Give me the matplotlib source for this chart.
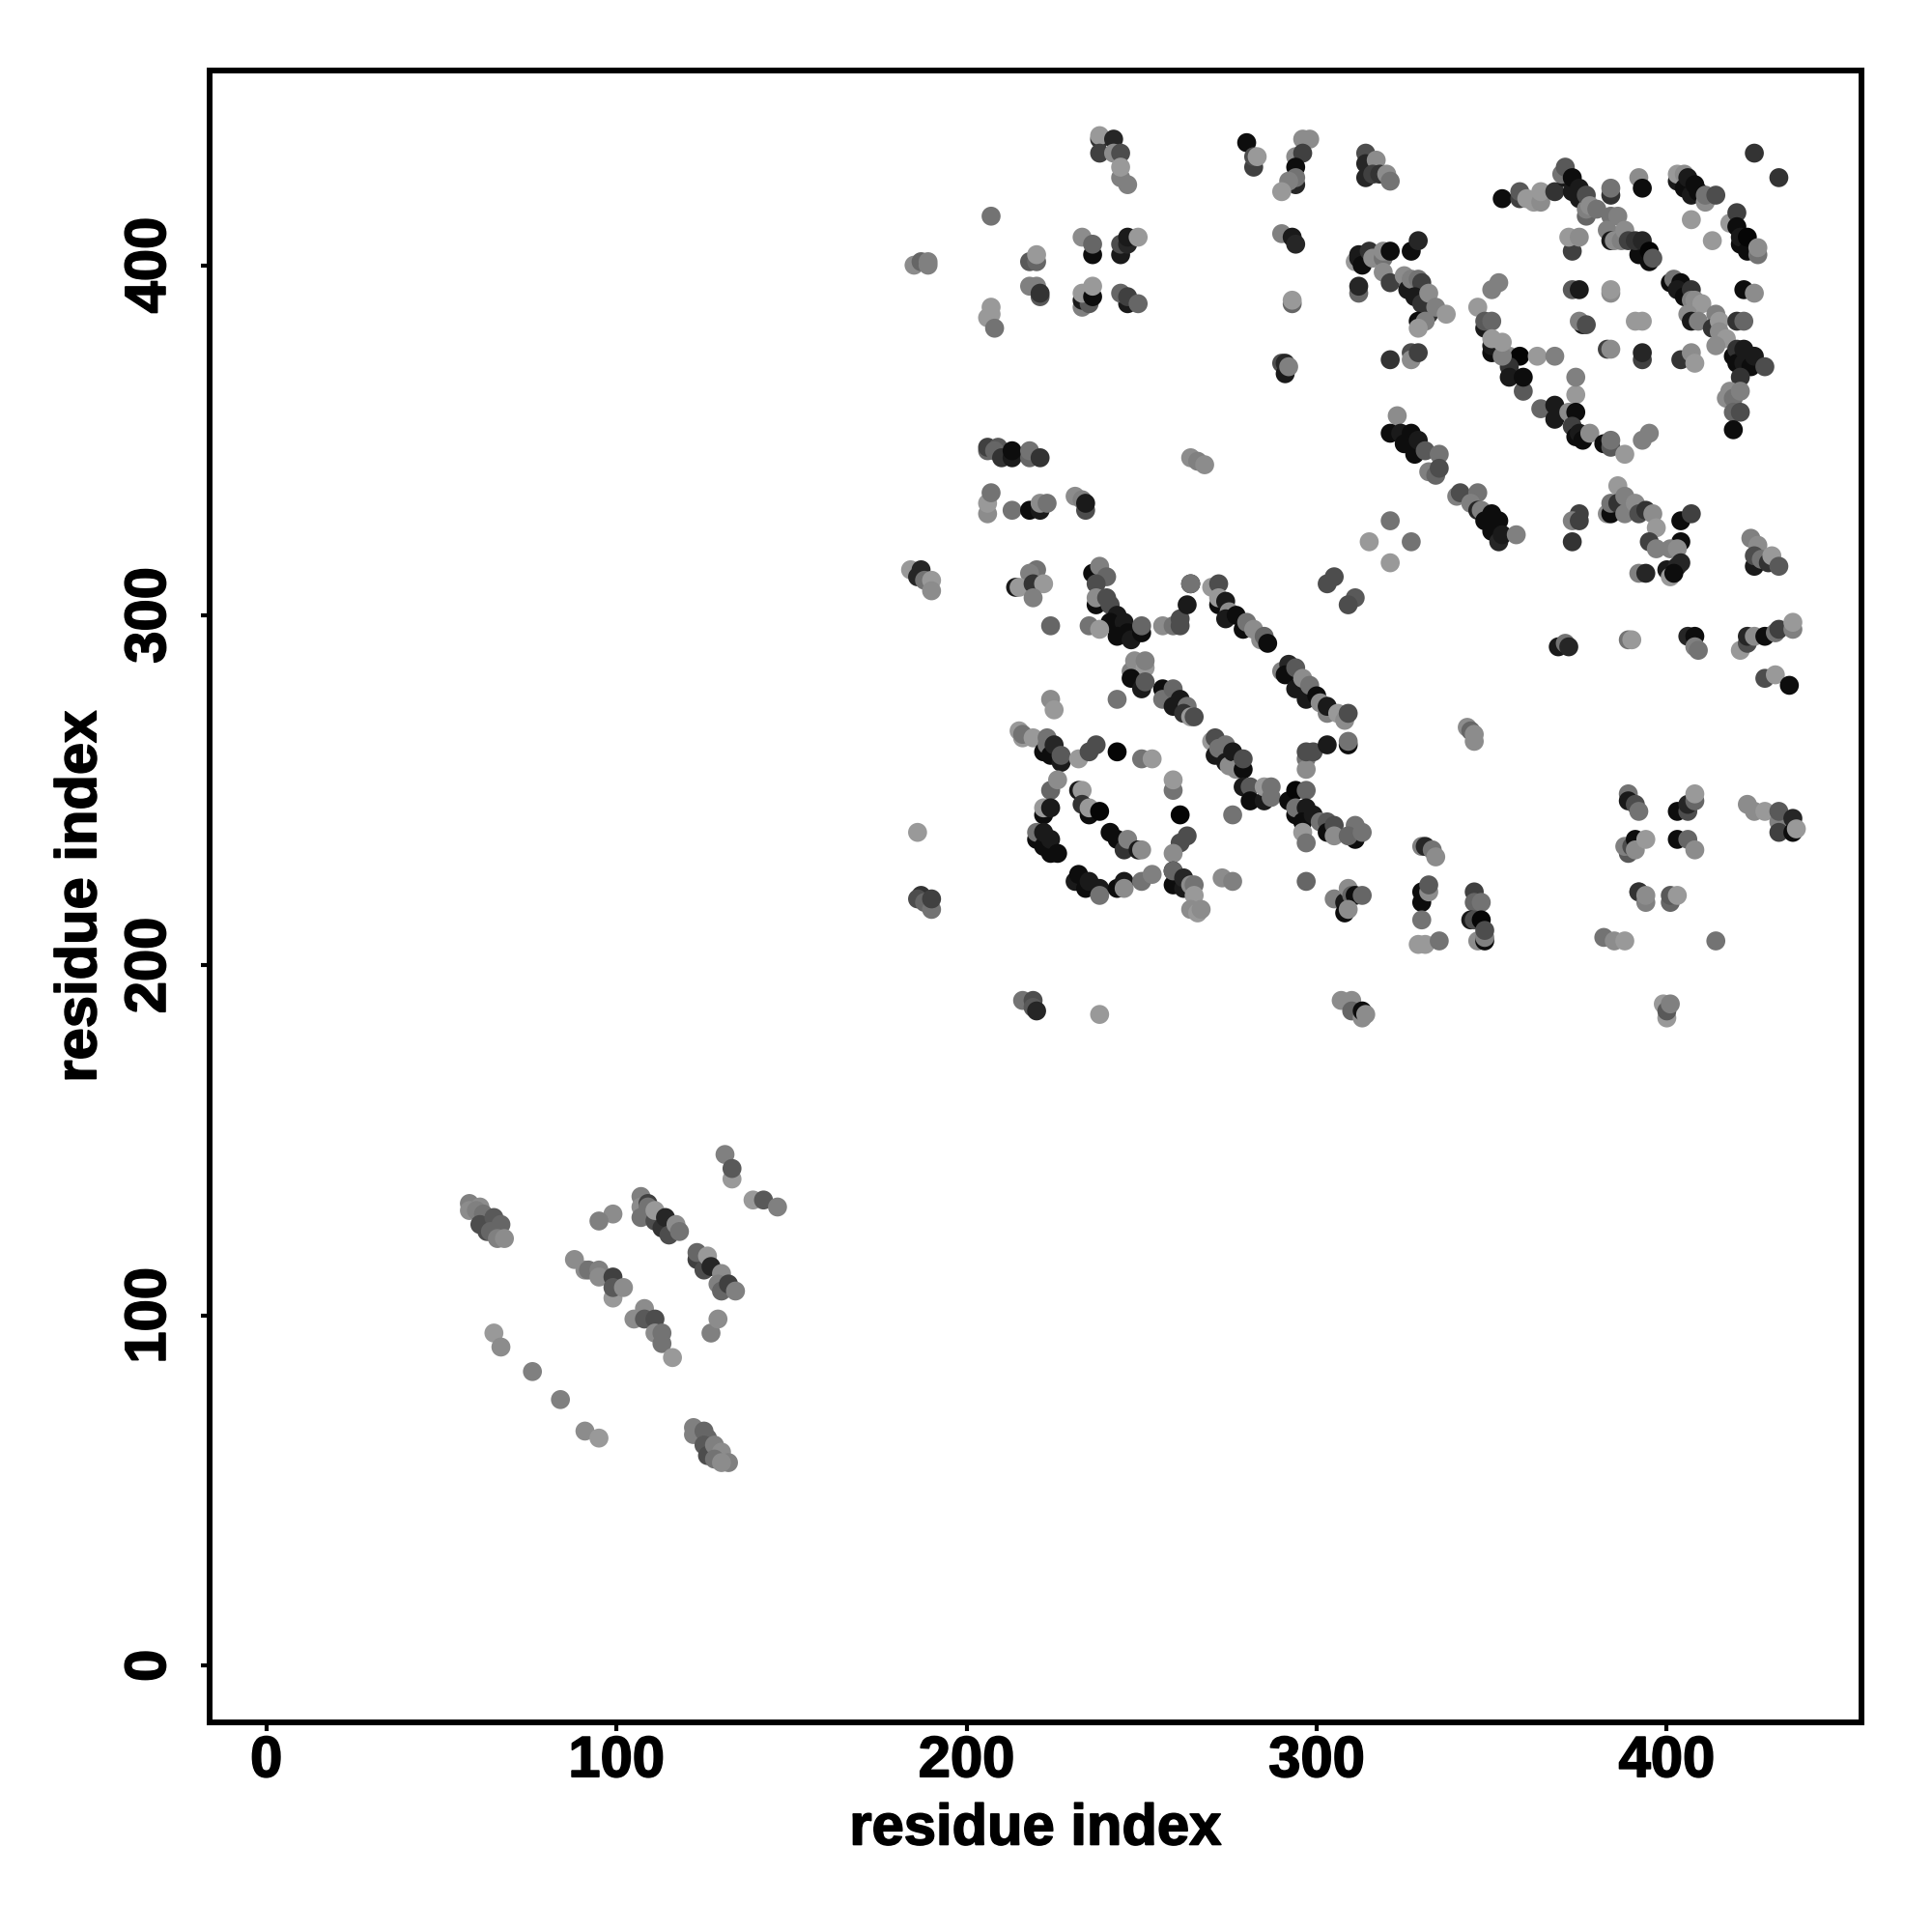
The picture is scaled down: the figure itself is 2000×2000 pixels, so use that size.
import matplotlib
matplotlib.use("Agg")
import matplotlib.pyplot as plt
import matplotlib.patheffects as pe

# contacts: (residue i, residue j, gray level)
lower_left = [
    (58,132,.5),(58,130,.55),(61,131,.55),(60,130,.5),(62,129,.45),(61,126,.3),(63,124,.3),(65,128,.35),
    (64,124,.4),(67,126,.4),(66,122,.5),(68,122,.55),
    (99,129,.55),(95,127,.5),
    (107,134,.5),(107,131,.55),(107,128,.45),(109,132,.25),(109,131,.45),(111,127,.3),(111,130,.6),(113,125,.2),
    (114,128,.15),(115,123,.3),(117,126,.55),(118,124,.45),
    (131,146,.5),(133,139,.6),(133,142,.35),(139,133,.6),(142,133,.35),(146,131,.5),
    (123,116,.25),(123,118,.4),(125,113,.3),(126,117,.6),(127,114,.15),(130,112,.55),(129,109,.5),(130,107,.4),
    (132,109,.25),(134,107,.5),
    (88,116,.55),(91,113,.55),(92,113,.45),(95,113,.5),(95,111,.55),(99,105,.6),(99,111,.25),(99,108,.35),(102,108,.55),
    (105,99,.55),(108,102,.55),(108,99,.35),(111,99,.3),(111,95,.55),(113,95,.45),(113,92,.45),(116,88,.6),
    (127,95,.5),(129,99,.55),
    (65,95,.6),(67,91,.55),(76,84,.5),(84,76,.5),(91,67,.55),(95,65,.6),
    (122,68,.5),(122,66,.5),(125,67,.4),(126,65,.4),(125,63,.35),(126,60,.3),(128,63,.5),(130,61,.55),(128,59,.45),
    (132,58,.5),(130,58,.55),
]
top_left = [
    (238,436,.2),(238,437,.6),(242,436,.15),(238,432,.25),(242,432,.55),(244,432,.3),(244,425,.5),(244,428,.6),(246,423,.5),
    (280,435,.05),(282,428,.25),(282,431,.3),(283,431,.6),(296,436,.55),(298,436,.55),(294,431,.55),(296,432,.25),
    (294,423,.15),(294,428,.05),(294,425,.45),(292,424,.5),(290,421,.6),
    (314,432,.3),(314,429,.15),(317,430,.55),(314,425,.15),(316,426,.25),(318,426,.2),(320,426,.55),(321,424,.45),
    (207,414,.45),(185,400,.55),(187,401,.4),(189,401,.5),(189,400,.5),
    (218,401,.35),(220,401,.4),(220,403,.6),
    (233,408,.55),(236,403,.05),(236,406,.4),
    (244,403,.1),(244,406,.3),(246,406,.15),(246,408,.1),(249,408,.6),
    (290,409,.5),(293,408,.1),(294,406,.15),
    (311,401,.6),(312,402,.1),(312,403,.1),(313,400,.05),(315,404,.2),(316,402,.55),(319,402,.45),(319,404,.55),
    (321,404,.05),(327,404,.05),(329,407,.15),
    (312,392,.4),(312,394,.15),
    (218,394,.5),(220,394,.5),(221,391,.35),(221,392,.2),
    (206,385,.6),(207,386,.6),(207,388,.6),(208,382,.45),
    (233,388,.5),(233,390,.1),(235,389,.35),(233,392,.6),(236,391,.05),(236,394,.6),
    (246,389,.1),(244,392,.4),(246,391,.25),(249,389,.4),
    (293,389,.4),(293,390,.6),
    (290,372,.3),(291,369,.1),(291,372,.15),(292,371,.5),
    (206,347,.4),(206,348,.25),(209,348,.35),(208,347,.4),(210,345,.2),(213,345,.1),(213,347,.05),
    (218,345,.4),(218,347,.45),(221,345,.2),
    (264,345,.55),(266,344,.5),(268,343,.55),
    (206,329,.55),(206,332,.6),(207,335,.45),(213,330,.45),(218,330,.05),(221,330,.1),(221,332,.55),(223,332,.45),
    (231,334,.55),(233,333,.5),(234,330,.3),(234,332,.1),
    (315,321,.6),(321,327,.45),(327,321,.45),(321,315,.6),
]
top_right = [
    (353,419,.05),(358,419,.25),(358,421,.35),(360,419,.6),(362,418,.6),(364,418,.55),(364,421,.6),(368,421,.2),
    (371,425,.1),(370,426,.45),(371,428,.35),(373,421,.1),(373,425,.05),(375,419,.1),(375,422,.1),
    (377,414,.4),(377,416,.5),(377,420,.3),(378,417,.55),(380,416,.45),(384,420,.2),(384,422,.45),
    (384,414,.45),(386,414,.5),(383,410,.5),(384,407,.1),(385,407,.55),(387,407,.5),(388,410,.55),(389,407,.25),
    (392,403,.05),(391,407,.2),(393,407,.15),(395,401,.05),(395,404,.02),(396,402,.35),
    (392,425,.55),(393,422,.05),(425,432,.2),(432,425,.2),
    (403,424,.1),(403,426,.6),(405,426,.55),(405,422,.05),(406,425,.1),(407,420,.1),(408,423,.05),(409,421,.05),
    (411,418,.55),(411,420,.45),(414,420,.3),(407,413,.6),(413,407,.6),
    (418,412,.6),(420,415,.25),(420,411,.05),(421,406,.05),(421,408,.1),(423,404,.05),(423,408,.02),(426,403,.45),(426,405,.55),
    (373,404,.25),(372,408,.6),(375,408,.55),
    (352,395,.5),(350,393,.5),(346,388,.6),
    (373,393,.35),(375,393,.1),(384,392,.55),(384,393,.6),(422,393,.05),(425,392,.55),
    (401,395,.05),(402,396,.45),(404,395,.05),(403,393,.1),(405,391,.05),(407,393,.2),(407,390,.5),(408,390,.55),(410,389,.6),
    (406,386,.55),(407,384,.1),(409,384,.5),(414,386,.5),(413,382,.2),(415,384,.6),(415,381,.55),(417,379,.6),(414,377,.55),
    (419,374,.05),(420,376,.2),(420,372,.05),(422,376,.1),(422,372,.1),(424,371,.05),(425,374,.1),(428,371,.3),
    (420,384,.2),(422,384,.4),(421,368,.2),
    (418,364,.55),(417,362,.55),(419,362,.45),(421,364,.5),(419,358,.4),(421,358,.3),(419,353,.05),
    (404,373,.2),(407,375,.55),(408,372,.6),(393,373,.25),(393,375,.15),(383,376,.25),(384,376,.55),
    (376,383,.1),(375,384,.5),(377,383,.3),(391,384,.6),(393,384,.6),
    (355,374,.55),(358,374,.02),(363,374,.6),(368,374,.5),
    (355,371,.2),(355,368,.1),(359,364,.35),(359,368,.05),
    (348,382,.1),(348,384,.35),(350,384,.4),(350,375,.05),(350,377,.1),(350,379,.6),(353,374,.5),(353,378,.6),
    (374,363,.6),(374,368,.5),
    (364,359,.4),(368,356,.1),(368,360,.1),(372,358,.55),(374,358,.05),(373,354,.25),(374,351,.05),(375,352,.1),
    (376,350,.05),(378,352,.55),(382,349,.05),(384,348,.35),(384,350,.45),(388,346,.6),(393,350,.5),(395,352,.5),
    (319,398,.55),(321,395,.25),(325,397,.55),(326,393,.1),(327,396,.5),(329,396,.45),(330,395,.25),(328,391,.1),
    (330,389,.2),(332,392,.55),(332,386,.2),(334,388,.5),(337,386,.6),(329,384,.05),(331,384,.5),(329,382,.6),
    (321,373,.2),(327,375,.3),(327,373,.55),(329,375,.25),
    (323,357,.55),(321,352,.05),(324,352,.1),(325,349,.05),(327,352,.05),(328,346,.05),(329,350,.1),(331,347,.35),
    (335,346,.45),(332,341,.5),(334,340,.4),(335,342,.3),
    (340,334,.5),(341,335,.3),(346,335,.45),(344,332,.5),(346,330,.15),(347,330,.5),(348,327,.05),(350,329,.05),
    (350,324,.05),(352,327,.05),(352,321,.15),(353,323,.1),(357,323,.5),
    (375,329,.25),(373,327,.5),(375,327,.25),(373,321,.2),
    (386,337,.6),(383,329,.55),(384,329,.05),(384,332,.45),(386,332,.2),(388,334,.5),(388,329,.5),(391,332,.55),
    (392,329,.3),(394,330,.2),(396,329,.55),(397,325,.6),(395,321,.25),(397,319,.5),
    (404,327,.05),(407,329,.25),(404,321,.05),(401,319,.5),(403,319,.55),(404,315,.15),(400,313,.1),(403,314,.15),
    (401,311,.6),(402,312,.05),(392,312,.5),(394,312,.15),
    (424,322,.5),(426,320,.55),(425,314,.1),(425,317,.3),(427,316,.45),(429,315,.2),(430,317,.6),(432,314,.35),
]
middle = [
    (184,313,.6),(186,311,.15),(187,313,.15),(188,310,.45),(190,310,.6),(190,307,.55),
    (220,313,.45),(218,312,.5),(214,308,.1),(215,308,.6),(219,309,.2),(222,309,.6),(219,305,.5),
    (236,312,.05),(238,314,.5),(240,311,.4),(237,309,.3),
    (237,303,.05),(237,305,.55),(241,303,.3),(240,305,.3),(243,300,.1),(241,298,.05),(245,298,.1),(243,294,.05),
    (246,295,.05),(247,293,.1),(250,295,.05),(250,297,.4),
    (224,297,.4),(235,297,.45),(238,296,.6),(256,297,.55),(259,297,.45),(261,297,.3),(261,299,.3),(263,303,.1),
    (264,309,.05),(264,309,.45),(270,308,.6),(272,309,.3),
    (272,303,.05),(272,305,.6),(274,304,.1),(275,301,.55),(274,299,.1),(277,300,.05),(279,296,.05),(280,298,.45),
    (282,296,.55),(284,293,.55),(285,294,.4),(286,292,.05),
    (305,311,.3),(303,309,.3),(311,305,.35),(309,303,.3),
    (247,284,.5),(248,287,.55),(251,285,.6),(251,287,.5),(247,282,.05),(250,279,.1),(251,281,.35),
    (256,279,.05),(256,276,.45),(259,279,.4),(261,276,.1),(259,274,.1),(263,274,.45),(262,272,.2),(264,271,.6),(265,271,.3),
    (243,276,.45),(224,276,.55),(225,273,.6),
    (290,284,.5),(292,286,.15),(291,283,.05),(294,285,.35),(294,279,.1),(296,282,.55),(297,276,.1),(298,280,.45),
    (300,277,.05),(301,275,.55),(303,272,.5),(303,274,.1),(306,272,.6),(308,270,.55),(309,272,.3),
    (270,264,.6),(271,265,.3),(271,260,.1),(272,262,.45),(274,263,.45),(274,258,.1),(275,257,.55),(276,261,.1),
    (277,256,.55),(279,256,.05),(279,259,.3),
    (215,267,.6),(216,265,.6),(216,266,.45),(219,265,.6),(222,261,.05),(223,263,.45),(223,265,.45),(224,260,.05),
    (225,263,.15),(227,258,.1),(227,260,.35),
    (232,259,.6),(235,261,.3),(237,263,.3),(243,261,.02),(250,259,.45),(253,259,.6),
    (259,250,.45),(259,253,.6),(261,243,.02),(276,243,.45),
    (224,250,.4),(226,253,.55),(222,243,.05),(222,245,.6),(224,245,.1),
    (220,236,.05),(220,238,.45),(222,234,.05),(222,238,.1),(224,232,.05),(224,236,.1),(226,232,.05),
    (232,250,.1),(233,250,.6),(233,246,.2),(235,243,.05),(235,245,.6),(238,244,.02),
    (241,238,.05),(243,236,.05),(245,233,.2),(246,236,.5),(249,233,.1),(250,233,.55),
    (186,238,.6),(263,237,.3),(261,235,.3),(259,232,.55),
    (231,224,.1),(232,226,.05),(234,222,.05),(235,224,.1),(238,222,.1),(238,220,.45),
    (243,222,.05),(245,224,.1),(245,222,.55),(250,224,.45),(253,226,.5),
    (259,223,.05),(259,227,.05),(259,227,.4),(262,222,.1),(262,225,.15),(264,223,.55),(265,223,.45),(265,220,.6),
    (264,216,.55),(266,215,.6),(267,216,.55),
    (273,225,.55),(276,224,.5),(297,224,.4),
    (305,219,.5),(308,218,.1),(309,222,.55),(310,220,.4),(311,220,.05),(313,220,.4),(308,215,.05),(309,216,.55),
    (187,220,.2),(186,219,.3),(188,218,.4),(190,216,.45),(190,219,.25),
    (279,251,.1),(281,251,.35),(281,247,.05),(285,247,.1),(285,251,.6),(287,251,.45),(287,248,.45),
    (292,247,.05),(294,250,.02),(297,250,.4),(294,243,.05),(294,245,.45),(297,245,.1),(296,241,.05),(299,243,.1),
    (301,241,.45),(303,241,.35),(303,238,.05),(305,240,.3),(305,237,.55),(296,238,.6),(297,235,.45),
    (311,236,.05),(311,240,.45),(309,237,.4),(313,238,.45),
    (297,259,.45),(297,256,.55),(297,261,.3),(299,261,.3),(303,263,.1),(309,263,.05),(309,264,.45),
    (216,190,.45),(219,190,.3),(219,188,.35),(220,187,.15),(238,186,.6),
    (307,190,.55),(310,190,.55),(310,187,.4),(313,185,.55),(313,187,.05),(314,186,.55),
]
right_column = [
    (369,291,.1),(371,292,.45),(372,291,.15),(389,293,.45),(390,293,.6),
    (406,294,.15),(408,294,.05),(408,291,.5),(409,290,.45),
    (421,290,.6),(423,292,.3),(423,294,.15),(425,294,.55),(428,294,.05),(431,295,.45),(432,296,.25),(436,296,.5),(436,298,.6),
    (428,282,.3),(431,283,.6),(435,280,.05),
    (343,268,.55),(344,267,.4),(345,264,.55),(345,266,.55),
    (389,249,.45),(389,247,.1),(391,246,.3),(392,244,.45),
    (403,244,.05),(406,244,.3),(406,246,.15),(408,247,.4),(408,249,.6),
    (423,246,.55),(425,244,.55),(428,244,.6),(432,241,.5),(432,244,.35),(432,238,.25),(436,242,.15),(436,238,.05),(437,239,.6),
    (389,232,.35),(388,234,.5),(390,234,.3),(391,236,.05),(391,233,.55),(394,236,.6),
    (403,236,.05),(406,236,.4),(408,233,.55),
    (330,234,.5),(331,234,.15),(333,233,.45),(334,231,.55),
    (330,218,.05),(330,221,.05),(332,221,.55),(332,223,.35),(330,213,.45),
    (345,221,.25),(345,218,.4),(347,218,.45),(344,213,.1),(345,213,.3),(347,213,.02),(346,207,.55),(348,207,.05),(348,208,.5),(348,210,.3),
    (329,206,.6),(331,206,.6),(335,207,.45),
    (382,208,.45),(385,207,.55),(388,207,.6),
    (392,221,.45),(392,221,.2),(394,218,.5),(394,220,.55),
    (401,218,.4),(401,220,.35),(403,220,.6),(414,207,.45),
    (399,189,.6),(400,185,.6),(400,187,.35),(401,189,.5),
]

groups = [lower_left, top_left, top_right, middle, right_column]
tick_values = [0, 100, 200, 300, 400]

xs = []
ys = []
grays = []
for group in groups:
    for i, j, g in group:
        xs.append(i)
        ys.append(j)
        grays.append(str(g))

plt.rcParams["font.family"] = ["Liberation Sans", "DejaVu Sans"]
plt.rcParams["font.weight"] = "bold"

fig = plt.figure(figsize=(20, 20), dpi=100)
ax = fig.add_axes([217 / 2000, 1 - 1783 / 2000, 1710 / 2000, 1710 / 2000])
ax.scatter(xs, ys, c=grays, s=200, linewidths=0, zorder=3)

ax.set_xlim(-16.2, 455.6)
ax.set_ylim(-16.2, 455.6)
ax.set_xticks(tick_values)
ax.set_yticks(tick_values)
ax.tick_params(length=6.5, width=3, labelsize=43)
ax.tick_params(axis="x", pad=3)
ax.tick_params(axis="y", pad=18)
for lab in ax.get_yticklabels():
    lab.set_rotation(90)
    lab.set_va("center")
for side in ax.spines.values():
    side.set_linewidth(4.3)

ax.set_xlabel("residue index", fontsize=43, fontweight="bold", labelpad=11)
ax.set_ylabel("residue index", fontsize=43, fontweight="bold", labelpad=12)

# the original bold face is a bit heavier than Liberation
heavy = [pe.withStroke(linewidth=1.2, foreground="black")]
for t in ax.get_xticklabels() + ax.get_yticklabels() + [ax.xaxis.label, ax.yaxis.label]:
    t.set_path_effects(heavy)

fig.savefig("out.png", dpi=100, facecolor="white")
